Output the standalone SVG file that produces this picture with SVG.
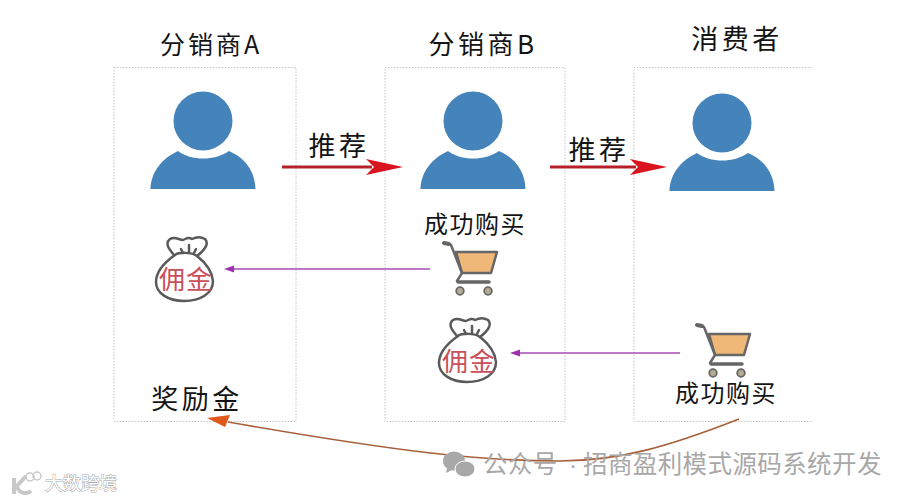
<svg xmlns="http://www.w3.org/2000/svg" width="910" height="500" viewBox="0 0 910 500">
<style>
text{font-family:"Noto Sans CJK SC","Liberation Sans",sans-serif;fill:#141414}
.box{fill:none;stroke:#c4c4c4;stroke-width:1;stroke-dasharray:1.5 1.5}
.cn{font-size:24px;letter-spacing:1.5px;text-anchor:middle}
.tt{font-size:25px;letter-spacing:3px;text-anchor:middle}
.tj{font-size:27px;letter-spacing:3.500px;text-anchor:middle}
.yj{font-size:26px;letter-spacing:1px;fill:#c9505a;text-anchor:middle}
.mark{font-size:24.500px;fill:#a8a8a8;letter-spacing:.4px}
.dot{font-family:"Liberation Sans",sans-serif}
.wm{font-size:18px;fill:#fff;stroke:#aaa;stroke-width:1px;paint-order:stroke}
.pur{fill:none;stroke:#a94bb5;stroke-width:1.4}
.red{fill:none;stroke:#b5202a;stroke-width:3}
</style>
<defs>
<g id="person"><circle cx="0" cy="0" r="29.5" fill="#4583bb"/><path d="M-52.500 68C-52 50-40 37-25 30C-12 40 12 40 26 30C42 37 52 50 52.500 68Z" fill="#4583bb"/></g>
<g id="cart" stroke-linejoin="round" stroke-linecap="round">
<path d="M12 13H53L47 34H18Z" fill="#f0b878" stroke="#666" stroke-width="2.500"/>
<path d="M0 4L7 6L18 34L13 42" fill="none" stroke="#666" stroke-width="2.500"/>
<path d="M0 4L5 5" stroke="#666" stroke-width="4"/>
<path d="M14 43H45" stroke="#666" stroke-width="3.500"/>
<circle cx="16" cy="52" r="3.800" fill="#b5ad92" stroke="#666" stroke-width="1.800"/>
<circle cx="44" cy="52" r="3.800" fill="#b5ad92" stroke="#666" stroke-width="1.800"/>
</g>
<g id="bag" fill="none" stroke="#5a5a5a" stroke-width="2.500" stroke-linejoin="round" stroke-linecap="round">
<path d="M18 20C12 13 9 8 14 4C19 1 23 5 27 5C31 3 33 2 36 4C40 2 44 1 49 4C53 8 50 14 41 21"/>
<path d="M25 14L27 18M33 10V18M40 14L38 18"/>
<path d="M19 20C23 17 36 17 41 21C50 28 56 36 57 46C57 58 45 66 28 66C12 66 0 58 0 47C0 36 9 27 19 20Z"/>
</g>
</defs>

<g id="node-a">
<rect class="box" x="114" y="67.500" width="182" height="354"/>
<text class="tt" x="211" y="54">分销商A</text>
<use href="#person" x="203" y="121"/>
<g transform="translate(156 235)"><use href="#bag"/></g>
<text class="yj" x="186" y="289">佣金</text>
<text class="tj" x="197" y="409">奖励金</text>
</g>
<g id="node-b">
<rect class="box" x="385" y="67.500" width="180" height="354"/>
<text class="tt" x="483" y="54" style="font-size:26px;letter-spacing:3.500px">分销商B</text>
<use href="#person" x="473" y="121"/>
<text class="cn" x="475" y="233">成功购买</text>
<use href="#cart" x="444" y="239"/>
<g transform="translate(439 316)"><use href="#bag"/></g>
<text class="yj" x="469" y="371">佣金</text>
</g>
<g id="node-c">
<path class="box" d="M812 67.500H634V421.500H812"/>
<text class="tj" x="737" y="49">消费者</text>
<use href="#person" x="722" y="123"/>
<use href="#cart" x="697" y="321"/>
<text class="cn" x="726" y="402">成功购买</text>
</g>

<g id="connectors">
<path class="red" d="M282 167H372"/>
<path d="M366 159L403 167L366 175L374 167Z" fill="#d9141e"/>
<text class="tj" x="339" y="156">推荐</text>
<path class="red" d="M550 167H636"/>
<path d="M630 159L667 167L630 175L638 167Z" fill="#d9141e"/>
<text class="tj" x="599" y="160">推荐</text>
<path class="pur" d="M230 269H430"/>
<path d="M224 269L234 265.500V272.500Z" fill="#a030b0"/>
<path class="pur" d="M516 353H680"/>
<path d="M510 353L520 349.500V356.500Z" fill="#a030b0"/>
<path d="M739 419C670 446 620 461 560 461C480 461 400 452 228 422" fill="none" stroke="#a8603a" stroke-width="1.600"/>
<path d="M207 418L230 415L225 427Z" fill="#e0581c"/>
</g>

<g id="watermark">
<ellipse cx="454" cy="461" rx="11" ry="9.500" fill="#a8a8a8"/>
<path d="M447 468L446 473L452 470Z" fill="#a8a8a8"/>
<ellipse cx="465" cy="469" rx="10" ry="8" fill="#a8a8a8" stroke="#fff"/>
<text class="mark" x="483" y="473">公众号<tspan class="dot" x="569">·</tspan><tspan x="583">招商盈利模式源码系统开发</tspan></text>
<path d="M14 478V494M26 476L17 486C18 493 26 495 31 491" fill="none" stroke="#c8c8c8" stroke-width="4"/>
<circle cx="30" cy="477" r="4" fill="none" stroke="#c8c8c8" stroke-width="1.500"/>
<circle cx="37" cy="476" r="4" fill="none" stroke="#c8c8c8" stroke-width="1.500"/>
<text class="wm" x="45" y="490">大数跨境</text>
</g>
</svg>
